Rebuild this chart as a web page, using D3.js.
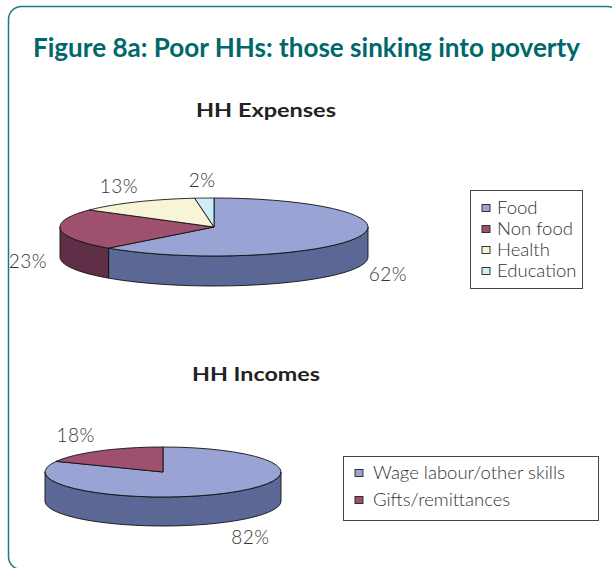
<!DOCTYPE html>
<html>
<head>
<meta charset="utf-8">
<script src="https://cdn.jsdelivr.net/npm/d3@7"></script>
<style>
  body { margin: 0; background: #fff; }
  text { font-family: Lato, "Open Sans", sans-serif; }
</style>
</head>
<body>
<script>
const width = 612;
const height = 568;

// data
const title = 'Figure 8a: Poor HHs: those sinking into poverty';
const expenseLabels = ['Food', 'Non food', 'Health', 'Education'];
const expenseValues = [62, 23, 13, 2];
const incomeLabels = ['Wage labour/other skills', 'Gifts/remittances'];
const incomeValues = [82, 18];

const topColors = ['#9aa4d4', '#a0506f', '#f7f5d6', '#cdeef6'];
const sideColors = ['#5b6896', '#5e2f46', '#b8b69a', '#8fb0b8'];

const svg = d3.select('body').append('svg')
    .attr('width', width)
    .attr('height', height);

// frame
svg.append('rect')
    .attr('x', 8.5).attr('y', 6.5)
    .attr('width', 612).attr('height', 563)
    .attr('rx', 13)
    .style('fill', 'none')
    .style('stroke', '#1b7c7e')
    .style('stroke-width', 1.5);

svg.append('text')
    .attr('x', 33).attr('y', 57)
    .attr('textLength', 547)
    .attr('lengthAdjust', 'spacingAndGlyphs')
    .style('font-size', '27px')
    .style('font-weight', 'bold')
    .style('fill', '#00686b')
    .text(title);

const pie = d3.pie().sort(null);

function drawPie3d(g, values, o) {
    const arcs = pie(values);
    const pt = (a, dy = 0) => [o.cx + o.rx * Math.sin(a), o.cy - o.ry * Math.cos(a) + dy];
    const line = d3.line();
    const sample = (a0, a1, dy) => d3.range(41).map(i => pt(a0 + (a1 - a0) * i / 40, dy));

    // front walls
    arcs.forEach((d, i) => {
        const lo = Math.max(d.startAngle, Math.PI / 2);
        const hi = Math.min(d.endAngle, Math.PI * 1.5);
        if (lo >= hi) return;
        const pts = sample(lo, hi, 0).concat(sample(hi, lo, o.depth));
        g.append('path')
            .attr('d', line(pts) + 'Z')
            .style('fill', sideColors[i])
            .style('stroke', '#111')
            .style('stroke-width', 0.9)
            .style('stroke-linejoin', 'round');
    });

    // top faces
    arcs.forEach((d, i) => {
        const pts = [[o.cx, o.cy]].concat(sample(d.startAngle, d.endAngle, 0));
        g.append('path')
            .attr('d', line(pts) + 'Z')
            .style('fill', topColors[i])
            .style('stroke', '#111')
            .style('stroke-width', 0.9)
            .style('stroke-linejoin', 'round');
    });

    // percentage labels
    arcs.forEach(d => {
        const mid = (d.startAngle + d.endAngle) / 2;
        const front = Math.cos(mid) < 0;
        g.append('text')
            .attr('x', o.cx + (o.rx + o.lx) * Math.sin(mid))
            .attr('y', o.cy - (o.ry + 18) * Math.cos(mid) + (front ? o.depth : 0))
            .attr('dy', '0.35em')
            .attr('text-anchor', 'middle')
            .style('font-size', '19px')
            .style('font-weight', 300)
            .style('letter-spacing', '0.5px')
            .style('fill', '#333')
            .text(d3.format('.0f')(d.value) + '%');
    });
}

function drawLegend(g, labels, o) {
    g.append('rect')
        .attr('x', o.x + 0.5).attr('y', o.y + 0.5)
        .attr('width', o.w).attr('height', o.h)
        .style('fill', '#fff')
        .style('stroke', '#444')
        .style('stroke-width', 1);
    labels.forEach((l, i) => {
        const y = o.y + o.top + i * o.step;
        g.append('rect')
            .attr('x', o.x + o.sq).attr('y', y - 3.5)
            .attr('width', 8).attr('height', 7)
            .style('fill', topColors[i])
            .style('stroke', '#222')
            .style('stroke-width', 0.9);
        g.append('text')
            .attr('x', o.x + o.tx).attr('y', y)
            .attr('dy', '0.35em')
            .style('font-size', o.fs + 'px')
            .style('font-weight', 300)
            .style('fill', '#333')
            .text(l);
    });
}

// HH Expenses
svg.append('text')
    .attr('x', 266).attr('y', 117)
    .attr('text-anchor', 'middle')
    .attr('textLength', 140)
    .attr('lengthAdjust', 'spacingAndGlyphs')
    .style('font-size', '19px')
    .style('font-weight', 'bold')
    .style('fill', '#222')
    .text('HH Expenses');

drawPie3d(svg.append('g'), expenseValues, {cx: 214, cy: 227, rx: 154, ry: 29, depth: 30, lx: 33});
drawLegend(svg.append('g'), expenseLabels, {x: 470, y: 190, w: 112, h: 98, top: 18, step: 21, sq: 12, tx: 27, fs: 18.5});

// HH Incomes
svg.append('text')
    .attr('x', 256).attr('y', 381)
    .attr('text-anchor', 'middle')
    .attr('textLength', 128)
    .attr('lengthAdjust', 'spacingAndGlyphs')
    .style('font-size', '19px')
    .style('font-weight', 'bold')
    .style('fill', '#222')
    .text('HH Incomes');

drawPie3d(svg.append('g'), incomeValues, {cx: 163, cy: 472, rx: 118, ry: 25, depth: 29, lx: 45});
drawLegend(svg.append('g'), incomeLabels, {x: 343, y: 456, w: 255, h: 64, top: 17, step: 27, sq: 12, tx: 30, fs: 18.5});
</script>
</body>
</html>
